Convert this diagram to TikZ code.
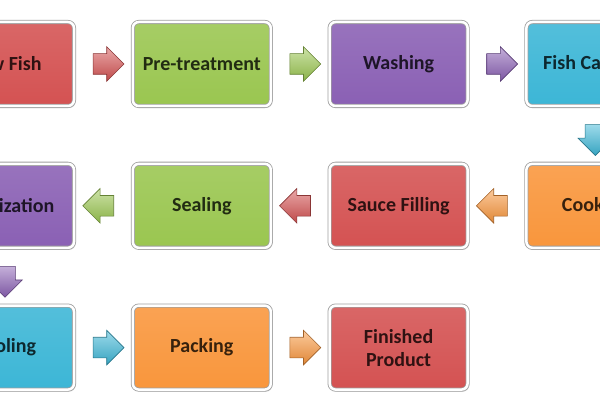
\documentclass[tikz,border=0pt]{standalone}
\usepackage{fontspec}
\setmainfont{Carlito}
\usetikzlibrary{positioning,calc,shapes.arrows,shadows}
\definecolor{stepred}{RGB}{212,82,82}
\definecolor{stepgreen}{RGB}{154,198,80}
\definecolor{steppurple}{RGB}{138,96,180}
\definecolor{stepblue}{RGB}{60,182,214}
\definecolor{steporange}{RGB}{249,150,60}

\begin{document}
\begin{tikzpicture}[node distance=57pt and 58pt,
 box/.style={rectangle,rounded corners=6pt,minimum width=138pt,minimum height=84pt,align=center,
  font=\fontsize{20}{23}\selectfont\bfseries,draw=gray!75,line width=0.8pt,double=white,double distance=2.5pt,
  top color=#1!88!white,bottom color=#1,text=#1!22!black,
  drop shadow={opacity=0.25,shadow xshift=1.5pt,shadow yshift=-2pt}},
 flow/.style={single arrow,minimum height=30pt,inner sep=10pt,single arrow head extend=7pt,
  draw=#1!65!black,line width=0.6pt,top color=#1!50!white,bottom color=#1!90!black}]
\useasboundingbox (0,0) rectangle (600pt,-403pt);
\clip (0,0) rectangle (600pt,-403pt);
% top row
\node[box=stepred] (raw) at (5pt,-64pt) {Raw Fish};
\node[box=stepgreen,right=of raw] (pre) {Pre-treatment};
\node[box=steppurple,right=of pre] (wash) {Washing};
\node[box=stepblue,right=of wash] (can) {Fish Canning};
% middle row
\node[box=steporange,below=of can] (cook) {Cooking};
\node[box=stepred,left=of cook] (sauce) {Sauce Filling};
\node[box=stepgreen,left=of sauce] (seal) {Sealing};
\node[box=steppurple,left=of seal] (steril) {Sterilization};
% bottom row
\node[box=stepblue,below=of steril] (cool) {Cooling};
\node[box=steporange,right=of cool] (pack) {Packing};
\node[box=stepred,right=of pack] (fin) {Finished\\Product};
% arrows
\node[flow=stepred] (a1) at ($(raw.east)!0.5!(pre.west)$) {};
\node[flow=stepgreen] (a2) at ($(pre.east)!0.5!(wash.west)$) {};
\node[flow=steppurple] (a3) at ($(wash.east)!0.5!(can.west)$) {};
\node[flow=stepblue,shape border rotate=270] (a4) at ($(can.south)!0.5!(cook.north)$) {};
\node[flow=steporange,shape border rotate=180] (a5) at ($(cook.west)!0.5!(sauce.east)$) {};
\node[flow=stepred,shape border rotate=180] (a6) at ($(sauce.west)!0.5!(seal.east)$) {};
\node[flow=stepgreen,shape border rotate=180] (a7) at ($(seal.west)!0.5!(steril.east)$) {};
\node[flow=steppurple,shape border rotate=270] (a8) at ($(steril.south)!0.5!(cool.north)$) {};
\node[flow=stepblue] (a9) at ($(cool.east)!0.5!(pack.west)$) {};
\node[flow=steporange] (a10) at ($(pack.east)!0.5!(fin.west)$) {};
\end{tikzpicture}
\end{document}
